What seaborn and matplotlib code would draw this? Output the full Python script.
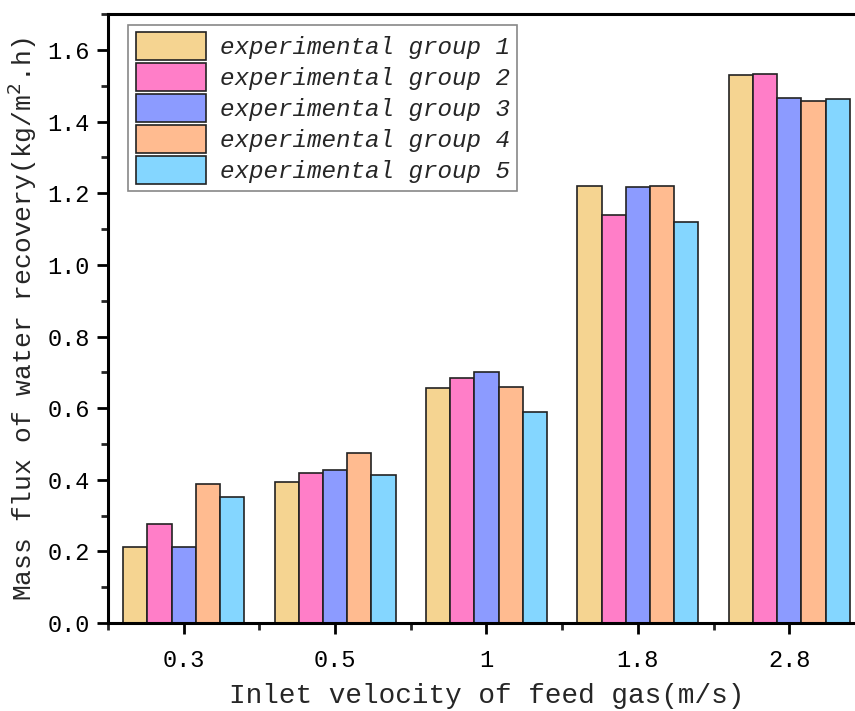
import matplotlib
matplotlib.use("Agg")
import matplotlib.pyplot as plt
from matplotlib.ticker import MultipleLocator, FixedLocator
import seaborn as sns
import pandas as pd

# Inlet velocities (m/s) and recovered water mass flux per experimental group
velocities = ["0.3", "0.5", "1", "1.8", "2.8"]
groups = ["experimental group 1", "experimental group 2", "experimental group 3",
          "experimental group 4", "experimental group 5"]
group1 = [0.211, 0.395, 0.657, 1.219, 1.530]
group2 = [0.277, 0.420, 0.685, 1.139, 1.534]
group3 = [0.211, 0.428, 0.700, 1.218, 1.465]
group4 = [0.387, 0.476, 0.658, 1.220, 1.459]
group5 = [0.352, 0.413, 0.588, 1.120, 1.463]
colors = ["#F5D491", "#FF7EC8", "#8C9BFF", "#FFBB90", "#84D6FF"]

rows = []
for name, vals in zip(groups, [group1, group2, group3, group4, group5]):
    for v, f in zip(velocities, vals):
        rows.append({"velocity": v, "flux": f, "group": name})
df = pd.DataFrame(rows)

sns.set_style("ticks")
plt.rcParams["font.family"] = ["Liberation Mono", "DejaVu Sans"]

fig = plt.figure(figsize=(8.55, 7.11), dpi=100)
ax = fig.add_axes([0.1263, 0.1238, 1.0117 - 0.1263, 0.98 - 0.1238])

sns.barplot(data=df, x="velocity", y="flux", hue="group", order=velocities,
            hue_order=groups, palette=colors, saturation=1, width=0.8,
            edgecolor="#222222", linewidth=1.2, ax=ax, errorbar=None)

ax.set_xlim(-0.5, 4.5)
ax.set_ylim(0, 1.7)
ax.yaxis.set_major_locator(MultipleLocator(0.2))
ax.yaxis.set_minor_locator(MultipleLocator(0.1))
ax.xaxis.set_minor_locator(FixedLocator([-0.5, 0.5, 1.5, 2.5, 3.5]))
ax.set_yticklabels([f"{t:.1f}" for t in ax.get_yticks()])

for side in ["left", "bottom", "top"]:
    ax.spines[side].set_linewidth(2.2)
    ax.spines[side].set_color("black")
ax.spines["right"].set_visible(False)
ax.tick_params(axis="both", which="major", direction="out", length=8, width=2,
               labelsize=17, colors="black", pad=5)
ax.tick_params(axis="both", which="minor", direction="out", length=5, width=2)
ax.tick_params(axis="x", which="major", pad=11)

ax.set_xlabel("Inlet velocity of feed gas(m/s)", fontsize=20, labelpad=8)
ax.set_ylabel("Mass flux of water recovery(kg/m$^2$.h)", fontsize=19, labelpad=6)

leg = ax.legend(loc="upper left", bbox_to_anchor=(0.027, 0.983), frameon=True,
                fancybox=False, edgecolor="#888888", framealpha=1,
                prop={"family": ["Liberation Mono"], "style": "italic", "size": 17.5},
                handlelength=2.9, handleheight=1.4, handletextpad=0.55,
                labelspacing=0.12, borderpad=0.3, borderaxespad=0)
leg.get_frame().set_linewidth(1.2)

fig.savefig("out.png", dpi=100)
